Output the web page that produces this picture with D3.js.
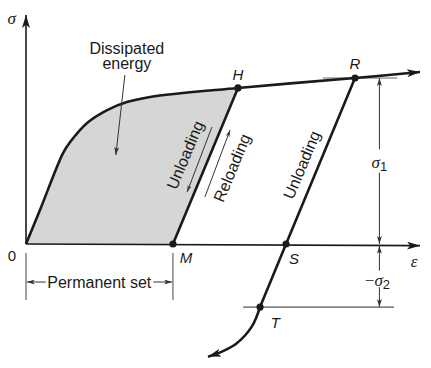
<!DOCTYPE html>
<html><head><meta charset="utf-8">
<script src="https://cdn.jsdelivr.net/npm/d3@7"></script>
<style>
html,body{margin:0;padding:0;background:#fff;}
svg{display:block;}
text{font-family:"Liberation Sans",Arial,sans-serif;fill:#1a1a1a;}
</style></head>
<body>
<script>
// ---- data (strain units, stress units) ----
const loadingCurve = [[0,0],[3.55,20.5],[9.4,54.8],[11.2,61.4],[15.5,72.9],[20.6,80.7],[25.6,85.5],[31.5,88.6],[53.8,94],[83.5,100],[100,103.6]];
const pointH = [53.8,94];
const pointM = [37.3,0];
const pointR = [83.5,100];
const pointS = [66,0];
const pointT = [59.4,-38];
const reverseCurve = [[59.4,-38],[57.3,-49.8],[53.5,-59.8],[50,-64.5],[46.2,-67.9]];
const pointLabels = [
  {t:"H", p:[53.8,102]},
  {t:"R", p:[83.5,109]},
  {t:"M", p:[40.6,-8]},
  {t:"S", p:[68,-9]},
  {t:"T", p:[63.3,-47]}
];
const sigma1 = 100, sigma2 = -38;

const W=431,H=368;
const x = d3.scaleLinear().domain([0,100]).range([26,420]);
const y = d3.scaleLinear().domain([0,100]).range([244,78]);

const svg = d3.select("body").append("svg").attr("width",W).attr("height",H);
svg.append("rect").attr("width",W).attr("height",H).attr("fill","#fff");
const defs = svg.append("defs");
function marker(id,len,wid,color){
  defs.append("marker").attr("id",id).attr("viewBox",`0 0 ${len} ${wid}`)
    .attr("refX",len).attr("refY",wid/2).attr("markerWidth",len).attr("markerHeight",wid)
    .attr("markerUnits","userSpaceOnUse").attr("orient","auto-start-reverse")
    .append("path").attr("d",`M0,0L${len},${wid/2}L0,${wid}L${len*0.25},${wid/2}Z`).attr("fill",color);
}
marker("big",13,8,"#1a1a1a");
marker("small",8,5,"#333");
marker("tiny",7,4,"#333");

const line = d3.line().x(d=>x(d[0])).y(d=>y(d[1]));

// shaded dissipated energy
const loadToH = loadingCurve.filter(d=>d[0]<=pointH[0]);
svg.append("path").attr("d", line([...loadToH, pointM, [0,0]]) + "Z")
  .attr("fill","#d6d6d6").attr("stroke","none");

// axes
svg.append("line").attr("x1",x(0)).attr("y1",y(0)).attr("x2",x(0)).attr("y2",y(138))
  .attr("stroke","#1a1a1a").attr("stroke-width",1.6).attr("marker-end","url(#big)");
svg.append("line").attr("x1",x(0)).attr("y1",y(0)).attr("x2",x(100)).attr("y2",y(-1))
  .attr("stroke","#1a1a1a").attr("stroke-width",1.6).attr("marker-end","url(#big)");

// thin reference lines
svg.append("line").attr("x1",x(75.4)).attr("x2",x(94.2)).attr("y1",y(sigma1)).attr("y2",y(sigma1))
  .attr("stroke","#666").attr("stroke-width",1);
svg.append("line").attr("x1",x(55.1)).attr("x2",x(93.4)).attr("y1",y(sigma2)).attr("y2",y(sigma2))
  .attr("stroke","#555").attr("stroke-width",1.1);

// loading curve
const curve = d3.line().x(d=>x(d[0])).y(d=>y(d[1])).curve(d3.curveCatmullRom.alpha(0.5));
svg.append("path").attr("d",curve(loadingCurve)).attr("fill","none")
  .attr("stroke","#1a1a1a").attr("stroke-width",2.6).attr("marker-end","url(#big)");
// unloading H->M
svg.append("path").attr("d",line([pointH,pointM])).attr("fill","none").attr("stroke","#1a1a1a").attr("stroke-width",2.6);
// unloading R->S->T and reverse curve
svg.append("path").attr("d",line([pointR,pointS,pointT])).attr("fill","none").attr("stroke","#1a1a1a").attr("stroke-width",2.6);
svg.append("path").attr("d",curve(reverseCurve)).attr("fill","none").attr("stroke","#1a1a1a").attr("stroke-width",2.6).attr("marker-end","url(#big)");

// dots
[pointH,pointR,pointM,pointS,pointT].forEach(p=>{
  svg.append("circle").attr("cx",x(p[0])).attr("cy",y(p[1])).attr("r",3.6).attr("fill","#1a1a1a");
});

// point labels
pointLabels.forEach(l=>{
  svg.append("text").attr("x",x(l.p[0])).attr("y",y(l.p[1])).attr("text-anchor","middle")
    .attr("dominant-baseline","central").attr("font-style","italic").attr("font-size",15).text(l.t);
});

// axis labels
svg.append("text").attr("x",x(-3.6)).attr("y",y(136)).attr("text-anchor","middle").attr("dominant-baseline","central")
  .style("font-family","'Liberation Serif',serif").attr("font-style","italic").attr("font-size",17).text("σ");
svg.append("text").attr("x",x(98.5)).attr("y",y(-10.8)).attr("text-anchor","middle").attr("dominant-baseline","central")
  .style("font-family","'Liberation Serif',serif").attr("font-style","italic").attr("font-size",17).text("ε");
svg.append("text").attr("x",x(-3.6)).attr("y",y(-7.2)).attr("text-anchor","middle").attr("dominant-baseline","central")
  .attr("font-size",15).text("0");

// sigma dimension lines
const dx = 89.7;
function dimLine(a,b){
  svg.append("line").attr("x1",x(dx)).attr("x2",x(dx)).attr("y1",y(a)).attr("y2",y(b))
    .attr("stroke","#333").attr("stroke-width",1).attr("marker-end","url(#small)");
}
dimLine(57,sigma1); dimLine(43,0);
dimLine(-16,-1); dimLine(-26,sigma2);
const s1 = svg.append("text").attr("x",x(dx)).attr("y",y(49.5)).attr("text-anchor","middle").attr("dominant-baseline","central")
  .style("font-family","'Liberation Serif',serif").attr("font-style","italic").attr("font-size",17);
s1.append("tspan").text("σ"); s1.append("tspan").attr("font-style","normal").attr("dy",4).attr("font-size",13).style("font-family","'Liberation Sans',sans-serif").text("1");
const s2 = svg.append("text").attr("x",x(dx)-2).attr("y",y(-21.5)).attr("text-anchor","middle").attr("dominant-baseline","central")
  .style("font-family","'Liberation Serif',serif").attr("font-style","italic").attr("font-size",17);
s2.append("tspan").attr("font-style","normal").text("−"); s2.append("tspan").text("σ"); s2.append("tspan").attr("font-style","normal").attr("dy",4).attr("font-size",13).style("font-family","'Liberation Sans',sans-serif").text("2");

// Permanent set
[0,pointM[0]].forEach(v=>{
  svg.append("line").attr("x1",x(v)).attr("x2",x(v)).attr("y1",y(-5.4)).attr("y2",y(-33.7)).attr("stroke","#444").attr("stroke-width",1);
});
svg.append("line").attr("x1",x(5)).attr("x2",x(0.2)).attr("y1",y(-22.9)).attr("y2",y(-22.9)).attr("stroke","#333").attr("stroke-width",1).attr("marker-end","url(#small)");
svg.append("line").attr("x1",x(32.3)).attr("x2",x(37.1)).attr("y1",y(-22.9)).attr("y2",y(-22.9)).attr("stroke","#333").attr("stroke-width",1).attr("marker-end","url(#small)");
svg.append("text").attr("x",x(18.6)).attr("y",y(-22.9)).attr("text-anchor","middle").attr("dominant-baseline","central")
  .attr("font-size",16).text("Permanent set");

// Dissipated energy
svg.append("text").attr("x",x(25.6)).attr("y",y(118)).attr("text-anchor","middle").attr("dominant-baseline","central").attr("font-size",16).text("Dissipated");
svg.append("text").attr("x",x(25.6)).attr("y",y(108.5)).attr("text-anchor","middle").attr("dominant-baseline","central").attr("font-size",16).text("energy");
svg.append("line").attr("x1",x(25.1)).attr("y1",y(101.8)).attr("x2",x(22.8)).attr("y2",y(53.6)).attr("stroke","#333").attr("stroke-width",1).attr("marker-end","url(#small)");

// rotated labels
const ang = -67.4;
[{t:"Unloading",p:[40.4,53.6]},{t:"Reloading",p:[52.3,45.8]},{t:"Unloading",p:[70,47.6]}].forEach(l=>{
  svg.append("text").attr("transform",`translate(${x(l.p[0])},${y(l.p[1])}) rotate(${ang})`)
    .attr("text-anchor","middle").attr("dominant-baseline","central").attr("font-size",16).text(l.t);
});
svg.append("line").attr("x1",x(47.2)).attr("y1",y(70.5)).attr("x2",x(40.9)).attr("y2",y(31.3)).attr("stroke","#333").attr("stroke-width",1).attr("marker-end","url(#tiny)");
svg.append("line").attr("x1",x(45.4)).attr("y1",y(28.3)).attr("x2",x(51.8)).attr("y2",y(68.7)).attr("stroke","#333").attr("stroke-width",1).attr("marker-end","url(#tiny)");
</script>
</body></html>
